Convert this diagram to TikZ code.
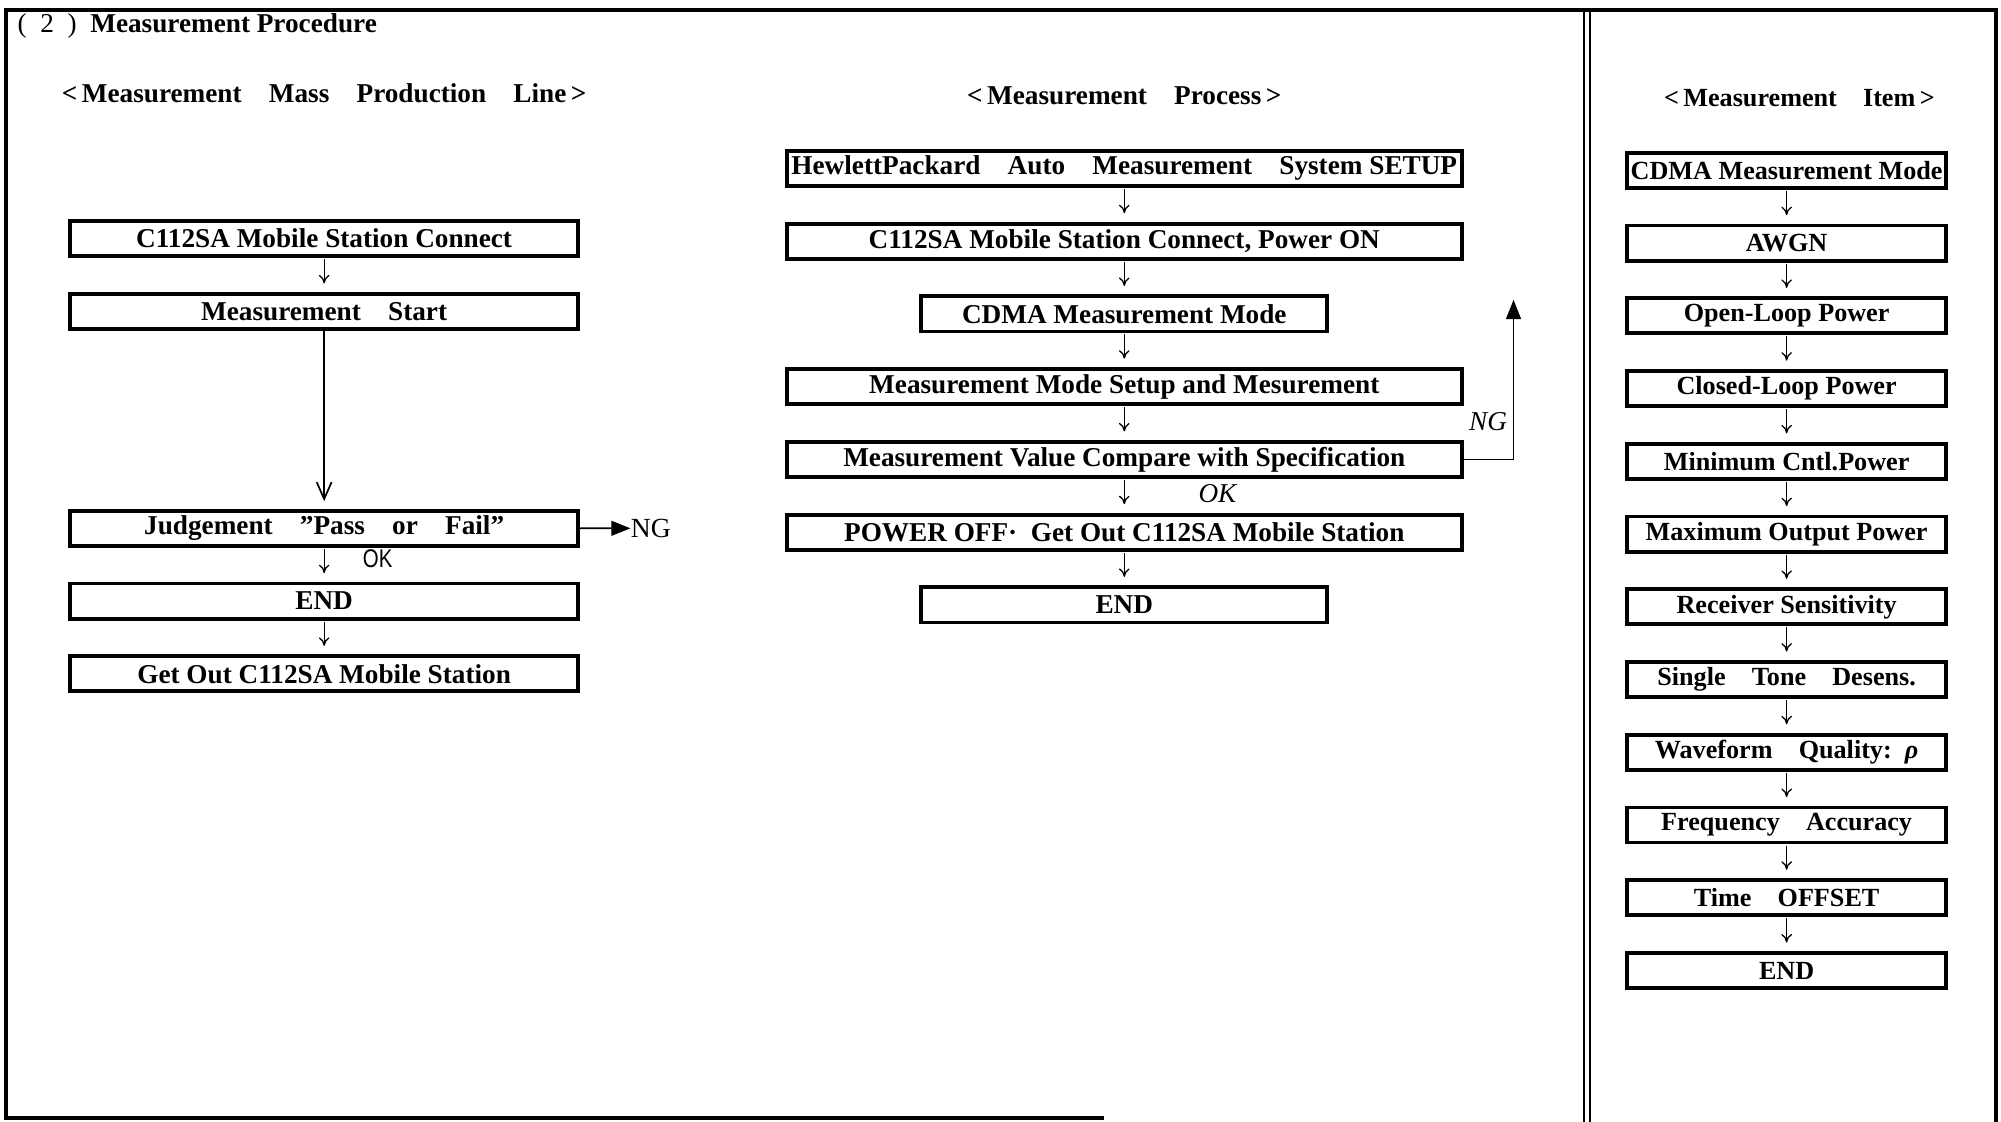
\documentclass[tikz,border=0pt]{standalone}
\usepackage{fontspec}
\setmainfont{Liberation Serif}
\newfontfamily\okfont[FakeStretch=0.8]{Liberation Sans}
\usetikzlibrary{positioning,chains,arrows.meta}

\newcommand{\boxfont}{\bfseries\fontsize{12.8}{14}\selectfont}
\newcommand{\itemfont}{\bfseries\fontsize{12.3}{14}\selectfont}

\begin{document}
\begin{tikzpicture}
        [x=0.6pt, y=-0.6pt,
          element/.style={on chain, draw, line width=1.8pt, inner sep=0pt,
            minimum height=16.5pt, text centered, font=\boxfont},
          every join/.style={-{To[length=4pt,width=5pt]}, line width=0.6pt,
            shorten <=0.5pt, shorten >=4pt},
          longarrow/.style={-{Straight Barb[length=8pt,width=7pt]}, line width=0.8pt,
            shorten <=0pt, shorten >=3.6pt},
          ngarrow/.style={-{Triangle[length=9pt,width=7pt]}, line width=0.8pt},
          node distance=15.9pt]
        \useasboundingbox (0,0) rectangle (1568,879);
        % frame
        \draw[line width=1.8pt] (865,876) -- (5,876) -- (5,8) -- (1564,8) -- (1564,879);
        \draw[line width=2.1pt] (5,8) -- (1564,8);
        \draw[line width=0.9pt] (1241,8) -- (1241,879) (1246,8) -- (1246,879);
        % headings
        \node[anchor=west, font=\boxfont] (title) at (8,20) {{\mdseries(\enspace2\enspace)}\enspace Measurement Procedure};
        \node[font=\boxfont] (hdline) at (254,73) {<\,Measurement\quad Mass\quad Production\quad Line\,>};
        \node[font=\boxfont] (hdproc) at (881,75) {<\,Measurement\quad Process\,>};
        \node[font=\itemfont] (hditem) at (1410,77) {<\,Measurement\quad Item\,>};
        % mass production line
        \begin{scope}[start chain=line going below, element/.append style={minimum width=238.8pt}]
          \node[element] (connect) at (254,187) {C112SA Mobile Station Connect};
          \node[element,join] (start) {Measurement\quad Start};
          \node[element,join=by longarrow,below=83.7pt of start] (judge) {Judgement\quad ”Pass\quad or\quad Fail”};
          \node[element,join] (lineend) {END};
          \node[element,join] (getout) {Get Out C112SA Mobile Station};
        \end{scope}
        \node[anchor=west, inner sep=0pt, font=\fontsize{13}{14}\selectfont] (ngline) at (494,414) {NG};
        \draw[ngarrow] (judge.east) -- (ngline.west);
        \node[font=\okfont\fontsize{12}{14}\selectfont] (okline) at (296,438) {OK};
        % measurement process
        \begin{scope}[start chain=proc going below, element/.append style={minimum width=317.4pt}]
          \node[element] (hpsetup) at (881,132) {HewlettPackard\quad Auto\quad Measurement\quad System SETUP};
          \node[element,join] (power) {C112SA Mobile Station Connect, Power ON};
          \node[element,join,minimum width=190.8pt] (cdma) {CDMA Measurement Mode};
          \node[element,join] (setup) {Measurement Mode Setup and Mesurement};
          \node[element,join] (compare) {Measurement Value Compare with Specification};
          \node[element,join] (poweroff) {POWER OFF·\enspace Get Out C112SA Mobile Station};
          \node[element,join,minimum width=190.8pt] (procend) {END};
        \end{scope}
        \coordinate (ngtop) at (1186,235);
        \draw[ngarrow] (compare.east) -| (ngtop);
        \node[font=\itshape\fontsize{12.8}{14}\selectfont] (ngproc) at (1166,330) {NG};
        \node[font=\itshape\fontsize{12.8}{14}\selectfont] (okproc) at (954,387) {OK};
        % measurement items
        \begin{scope}[start chain=item going below, element/.append style={minimum width=150pt, font=\itemfont}]
          \node[element] (icdma) at (1400,133.5) {CDMA Measurement Mode};
          \node[element,join] (awgn) {AWGN};
          \node[element,join] (openloop) {Open-Loop Power};
          \node[element,join] (closedloop) {Closed-Loop Power};
          \node[element,join] (minpower) {Minimum Cntl.Power};
          \node[element,join] (maxpower) {Maximum Output Power};
          \node[element,join] (rxsens) {Receiver Sensitivity};
          \node[element,join] (tone) {Single\quad Tone\quad Desens.};
          \node[element,join] (rho) {Waveform\quad Quality:\enspace\textit{ρ}};
          \node[element,join] (freq) {Frequency\quad Accuracy};
          \node[element,join] (offset) {Time\quad OFFSET};
          \node[element,join] (itemend) {END};
        \end{scope}
      \end{tikzpicture}
\end{document}
